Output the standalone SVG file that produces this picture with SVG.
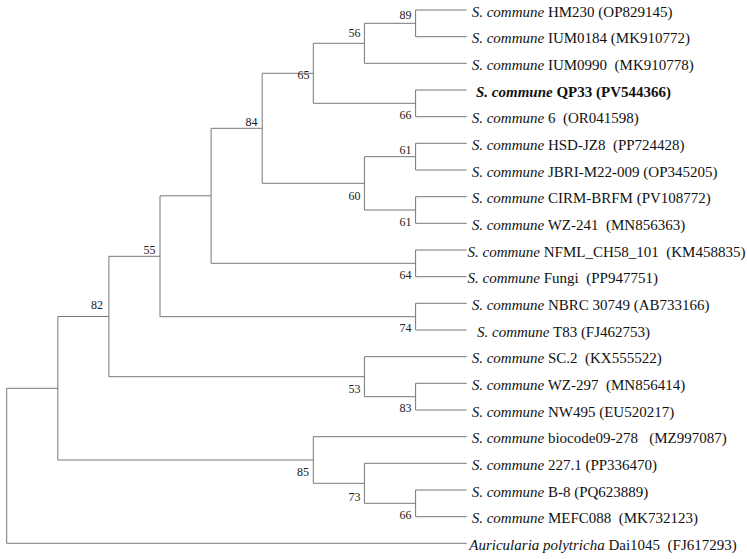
<svg xmlns="http://www.w3.org/2000/svg" width="747" height="559" viewBox="0 0 747 559">
<style>
.br{fill:none;stroke:#777;stroke-width:1}
.lf{font-family:"Liberation Serif","Times New Roman",serif;font-size:15px;fill:#111;white-space:pre}
.sp{font-style:italic}
.bd{font-weight:bold}
.bs{font-family:"Liberation Serif","Times New Roman",serif;font-size:12px;fill:#222;text-anchor:end}
</style>
<rect width="747" height="559" fill="#fff"/>
<g id="connectors">
<path class="br" d="M466.7 10H415.6V36.7H466.7"/>
<path class="br" d="M415.6 23.3H364.4V63.3H466.7"/>
<path class="br" d="M466.7 90H415.6V116.7H466.7"/>
<path class="br" d="M364.4 43.3H313.3V103.3H415.6"/>
<path class="br" d="M466.7 143.3H415.6V170H466.7"/>
<path class="br" d="M466.7 196.7H415.6V223.3H466.7"/>
<path class="br" d="M415.6 156.7H364.4V210H415.6"/>
<path class="br" d="M313.3 73.3H262.2V183.3H364.4"/>
<path class="br" d="M466.7 250H415.6V276.7H466.7"/>
<path class="br" d="M262.2 128.3H211.1V263.3H415.6"/>
<path class="br" d="M466.7 303.3H415.6V330H466.7"/>
<path class="br" d="M211.1 195.8H160V316.7H415.6"/>
<path class="br" d="M466.7 383.3H415.6V410H466.7"/>
<path class="br" d="M466.7 356.7H364.4V396.7H415.6"/>
<path class="br" d="M160 256.3H108.9V376.7H364.4"/>
<path class="br" d="M466.7 490H415.6V516.7H466.7"/>
<path class="br" d="M466.7 463.3H364.4V503.3H415.6"/>
<path class="br" d="M466.7 436.7H313.3V483.3H364.4"/>
<path class="br" d="M108.9 316.5H57.8V460H313.3"/>
<path class="br" d="M57.8 388.3H6.7V543.3H466.7"/>
</g>
<g id="leaf-HM230"><text class="lf" x="471.7" y="16.5"><tspan class="sp">S. commune</tspan> HM230 (OP829145)</text></g>
<g id="leaf-IUM0184"><text class="lf" x="471.7" y="43.2"><tspan class="sp">S. commune</tspan> IUM0184 (MK910772)</text></g>
<g id="leaf-IUM0990"><text class="lf" x="471.7" y="69.8"><tspan class="sp">S. commune</tspan> IUM0990  (MK910778)</text></g>
<g id="leaf-QP33"><text class="lf bd" x="476" y="96.5"><tspan class="sp">S. commune</tspan> QP33 (PV544366)</text></g>
<g id="leaf-6"><text class="lf" x="471.7" y="123.2"><tspan class="sp">S. commune</tspan> 6  (OR041598)</text></g>
<g id="leaf-HSD-JZ8"><text class="lf" x="471.7" y="149.8"><tspan class="sp">S. commune</tspan> HSD-JZ8  (PP724428)</text></g>
<g id="leaf-JBRI"><text class="lf" x="471.7" y="176.5"><tspan class="sp">S. commune</tspan> JBRI-M22-009 (OP345205)</text></g>
<g id="leaf-CIRM"><text class="lf" x="471.7" y="203.2"><tspan class="sp">S. commune</tspan> CIRM-BRFM (PV108772)</text></g>
<g id="leaf-WZ-241"><text class="lf" x="471.7" y="229.8"><tspan class="sp">S. commune</tspan> WZ-241  (MN856363)</text></g>
<g id="leaf-NFML"><text class="lf" x="467.5" y="256.5"><tspan class="sp">S. commune</tspan> NFML_CH58_101  (KM458835)</text></g>
<g id="leaf-Fungi"><text class="lf" x="467.5" y="283.2"><tspan class="sp">S. commune</tspan> Fungi  (PP947751)</text></g>
<g id="leaf-NBRC"><text class="lf" x="471.7" y="309.8"><tspan class="sp">S. commune</tspan> NBRC 30749 (AB733166)</text></g>
<g id="leaf-T83"><text class="lf" x="477" y="336.5"><tspan class="sp">S. commune</tspan> T83 (FJ462753)</text></g>
<g id="leaf-SC2"><text class="lf" x="471.7" y="363.2"><tspan class="sp">S. commune</tspan> SC.2  (KX555522)</text></g>
<g id="leaf-WZ-297"><text class="lf" x="471.7" y="389.8"><tspan class="sp">S. commune</tspan> WZ-297  (MN856414)</text></g>
<g id="leaf-NW495"><text class="lf" x="471.7" y="416.5"><tspan class="sp">S. commune</tspan> NW495 (EU520217)</text></g>
<g id="leaf-biocode"><text class="lf" x="471.7" y="443.2"><tspan class="sp">S. commune</tspan> biocode09-278   (MZ997087)</text></g>
<g id="leaf-227-1"><text class="lf" x="471.7" y="469.8"><tspan class="sp">S. commune</tspan> 227.1 (PP336470)</text></g>
<g id="leaf-B-8"><text class="lf" x="471.7" y="496.5"><tspan class="sp">S. commune</tspan> B-8 (PQ623889)</text></g>
<g id="leaf-MEFC088"><text class="lf" x="471.7" y="523.2"><tspan class="sp">S. commune</tspan> MEFC088  (MK732123)</text></g>
<g id="leaf-Auricularia"><text class="lf" x="469.3" y="549.8"><tspan class="sp">Auricularia polytricha</tspan> Dai1045  (FJ617293)</text></g>
<g id="node-89"><text class="bs" x="411.5" y="19.3">89</text></g>
<g id="node-56"><text class="bs" x="360.5" y="37.3">56</text></g>
<g id="node-65"><text class="bs" x="309.5" y="79">65</text></g>
<g id="node-66a"><text class="bs" x="411.5" y="119.3">66</text></g>
<g id="node-84"><text class="bs" x="257.5" y="125.7">84</text></g>
<g id="node-61a"><text class="bs" x="411.5" y="154">61</text></g>
<g id="node-60"><text class="bs" x="360.5" y="200">60</text></g>
<g id="node-61b"><text class="bs" x="411.5" y="225.7">61</text></g>
<g id="node-55"><text class="bs" x="155.5" y="254">55</text></g>
<g id="node-64"><text class="bs" x="411.5" y="279">64</text></g>
<g id="node-82"><text class="bs" x="103" y="309">82</text></g>
<g id="node-74"><text class="bs" x="411.5" y="332.3">74</text></g>
<g id="node-53"><text class="bs" x="360.5" y="392.7">53</text></g>
<g id="node-83"><text class="bs" x="411.5" y="412">83</text></g>
<g id="node-85"><text class="bs" x="309" y="476">85</text></g>
<g id="node-73"><text class="bs" x="360.5" y="500.7">73</text></g>
<g id="node-66b"><text class="bs" x="411.5" y="519">66</text></g>
</svg>
